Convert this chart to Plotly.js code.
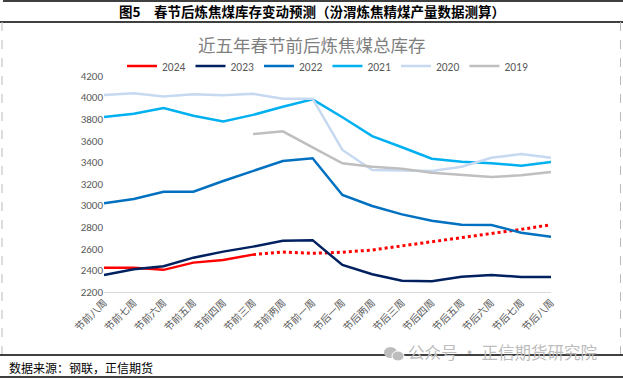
<!DOCTYPE html>
<html>
<head>
<meta charset="utf-8">
<script src="https://cdn.plot.ly/plotly-3.0.1.min.js"></script>
<style>html,body{margin:0;padding:0;background:#fff;}#chart{width:623px;height:379px;}</style>
</head>
<body>
<div id="chart"></div>
<script>
var categories = ["节前八周","节前七周","节前六周","节前五周","节前四周","节前三周","节前两周","节前一周","节后一周","节后两周","节后三周","节后四周","节后五周","节后六周","节后七周","节后八周"];
var s2024 = [2425, 2425, 2405, 2472, 2496, 2546, null, null, null, null, null, null, null, null, null, null];
var s2024Forecast = [null, null, null, null, null, 2546, 2570, 2558, 2568, 2589, 2626, 2663, 2700, 2737, 2780, 2823];
var s2023 = [2357, 2410, 2438, 2518, 2574, 2620, 2675, 2680, 2450, 2364, 2305, 2299, 2342, 2357, 2340, 2340];
var s2022 = [3021, 3061, 3129, 3129, 3228, 3324, 3413, 3438, 3098, 2996, 2919, 2860, 2823, 2820, 2749, 2712];
var s2021 = [3820, 3850, 3903, 3832, 3780, 3840, 3915, 3984, 3818, 3644, 3540, 3434, 3406, 3392, 3370, 3404];
var s2020 = [4025, 4040, 4010, 4030, 4022, 4035, 3990, 3990, 3515, 3330, 3325, 3320, 3360, 3443, 3478, 3443];
var s2019 = [null, null, null, null, null, 3663, 3688, 3540, 3392, 3360, 3342, 3305, 3283, 3265, 3280, 3311];
var yTicks = [2200, 2400, 2600, 2800, 3000, 3200, 3400, 3600, 3800, 4000, 4200];

function line(name, y, color, extra) {
  var t = {type: 'scatter', mode: 'lines', name: name, x: categories, y: y,
    line: {color: color, width: 2.5}, connectgaps: false, hoverinfo: 'skip'};
  if (extra) for (var k in extra) t[k] = extra[k];
  return t;
}

var traces = [
  line('2024', s2024, '#FF0000'),
  line('2024预测', s2024Forecast, '#FF0000', {showlegend: false, line: {color: '#FF0000', width: 3, dash: 'dot'}}),
  line('2023', s2023, '#002060'),
  line('2022', s2022, '#0070C0'),
  line('2021', s2021, '#00B0F0'),
  line('2020', s2020, '#C6D9F1'),
  line('2019', s2019, '#BFBFBF')
];

// paper y from pixel: plot top 76, bottom 292 (height 216)
function py(pix) { return (292 - pix) / 216; }
function px(pix) { return (pix - 104) / 447; }

var layout = {
  width: 623, height: 379,
  margin: {l: 104, r: 72, t: 76, b: 87, pad: 0},
  paper_bgcolor: '#ffffff', plot_bgcolor: '#ffffff',
  font: {family: '"Noto Sans CJK SC", "Noto Sans", sans-serif', color: '#595959'},
  showlegend: true,
  legend: {orientation: 'h', x: 0.5, xanchor: 'center', y: py(66), yanchor: 'middle',
    font: {size: 11.5, color: '#595959', family: 'Calibri, "Liberation Sans", "Noto Sans", sans-serif'},
    bgcolor: 'rgba(0,0,0,0)', itemwidth: 30, traceorder: 'normal'},
  xaxis: {type: 'category', categoryorder: 'array', categoryarray: categories,
    tickangle: -45, tickfont: {size: 10, color: '#595959'}, showgrid: false, zeroline: false,
    showline: true, linecolor: '#D9D9D9', linewidth: 1, ticks: '', fixedrange: true},
  yaxis: {range: [2200, 4200], tickvals: yTicks, ticktext: yTicks.map(String),
    tickfont: {size: 11, color: '#595959', family: 'Calibri, "Liberation Sans", "Noto Sans", sans-serif'},
    showgrid: false, zeroline: false, showline: false, ticks: '', fixedrange: true},
  shapes: [
    {type: 'line', xref: 'paper', yref: 'paper', x0: px(3), x1: px(623), y0: py(1), y1: py(1), line: {color: '#000', width: 1.5}},
    {type: 'line', xref: 'paper', yref: 'paper', x0: px(0), x1: px(623), y0: py(22), y1: py(22), line: {color: '#000', width: 1.5}},
    {type: 'line', xref: 'paper', yref: 'paper', x0: px(2), x1: px(2), y0: py(22), y1: py(355), line: {color: '#BBBBBB', width: 1, dash: 'dash'}},
    {type: 'line', xref: 'paper', yref: 'paper', x0: px(620.5), x1: px(620.5), y0: py(22), y1: py(355), line: {color: '#BBBBBB', width: 1, dash: 'dash'}},
    {type: 'line', xref: 'paper', yref: 'paper', x0: px(0), x1: px(623), y0: py(355), y1: py(355), line: {color: '#000', width: 1.5}},
    {type: 'line', xref: 'paper', yref: 'paper', x0: px(0), x1: px(623), y0: py(377), y1: py(377), line: {color: '#000', width: 1.5}},
    {type: 'circle', xref: 'paper', yref: 'paper', x0: px(384), x1: px(397), y0: py(358), y1: py(347), fillcolor: '#BDBDBD', line: {width: 0}},
    {type: 'circle', xref: 'paper', yref: 'paper', x0: px(392), x1: px(404), y0: py(361), y1: py(351), fillcolor: '#BDBDBD', line: {color: '#fff', width: 1}}
  ],
  annotations: [
    {xref: 'paper', yref: 'paper', x: px(312), y: py(11.5), xanchor: 'center', yanchor: 'middle', showarrow: false,
      text: '<b>图5　春节后炼焦煤库存变动预测（汾渭炼焦精煤产量数据测算）</b>',
      font: {size: 13.5, color: '#000', family: '"Noto Sans CJK SC", sans-serif'}},
    {xref: 'paper', yref: 'paper', x: px(312), y: py(45), xanchor: 'center', yanchor: 'middle', showarrow: false,
      text: '近五年春节前后炼焦煤总库存',
      font: {size: 17.5, color: '#7F7F7F', family: '"Noto Sans CJK SC", sans-serif'}},
    {xref: 'paper', yref: 'paper', x: px(406), y: py(352), xanchor: 'left', yanchor: 'middle', showarrow: false,
      text: '公众号 · 正信期货研究院',
      font: {size: 16.5, color: '#BDBDBD', family: '"Noto Sans CJK SC", sans-serif'}},
    {xref: 'paper', yref: 'paper', x: px(7), y: py(367), xanchor: 'left', yanchor: 'middle', showarrow: false,
      text: '数据来源：钢联，正信期货',
      font: {size: 12, color: '#000', family: '"Noto Sans CJK SC", sans-serif'}}
  ]
};

Plotly.newPlot('chart', traces, layout, {displayModeBar: false, staticPlot: true});
</script>
</body>
</html>
